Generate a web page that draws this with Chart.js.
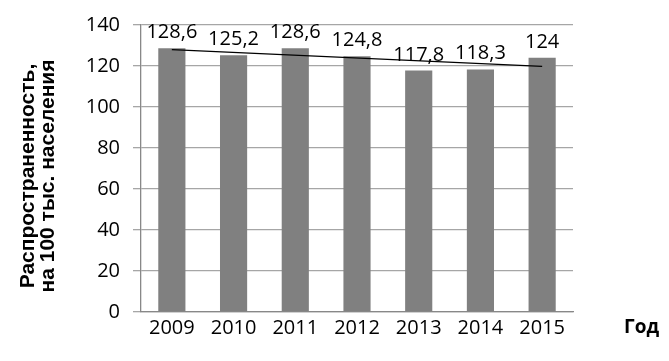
<!DOCTYPE html>
<html>
<head>
<meta charset="utf-8">
<script src="https://cdn.jsdelivr.net/npm/chart.js@4.4.0/dist/chart.umd.min.js"></script>
<style>
html,body{margin:0;padding:0;background:#fff;}
#wrap{width:669px;height:361px;position:relative;}
</style>
</head>
<body>
<div id="wrap"><canvas id="c" width="669" height="361"></canvas></div>
<script>
const years = ['2009','2010','2011','2012','2013','2014','2015'];
const prevalence = [128.6, 125.2, 128.6, 124.8, 117.8, 118.3, 124];
const valueLabels = ['128,6','125,2','128,6','124,8','117,8','118,3','124'];
const trend = [128.0, null, null, null, null, null, 119.8];
const yTicks = [0, 20, 40, 60, 80, 100, 120, 140];
const yTitle = ['Распространенность,', 'на 100 тыс. населения'];
const xTitle = 'Год';

const FONT = '"Open Sans", sans-serif';

const labelsPlugin = {
  id: 'labelsPlugin',
  afterDatasetsDraw(chart) {
    const ctx = chart.ctx;
    const meta = chart.getDatasetMeta(0);
    ctx.save();
    ctx.font = '20px ' + FONT;
    ctx.fillStyle = '#000';
    ctx.textAlign = 'center';
    ctx.textBaseline = 'alphabetic';
    meta.data.forEach((bar, i) => {
      ctx.fillText(valueLabels[i], bar.x, bar.y - 10);
    });
    ctx.restore();
  },
  afterDraw(chart) {
    const ctx = chart.ctx;
    const ca = chart.chartArea;
    ctx.save();
    ctx.fillStyle = '#000';
    ctx.font = 'bold 21px "Liberation Sans", Arial, sans-serif';
    ctx.textAlign = 'center';
    ctx.textBaseline = 'middle';
    ctx.translate(38, 176);
    ctx.rotate(-Math.PI / 2);
    ctx.fillText(yTitle[0], 0, -10);
    ctx.fillText(yTitle[1], 0, 10);
    ctx.restore();
    ctx.save();
    ctx.fillStyle = '#000';
    ctx.font = 'bold 19px ' + FONT;
    ctx.textAlign = 'left';
    ctx.textBaseline = 'middle';
    ctx.fillText(xTitle, 624, 328);
    ctx.restore();
  }
};

new Chart(document.getElementById('c'), {
  type: 'bar',
  data: {
    labels: years,
    datasets: [
      {
        type: 'bar',
        data: prevalence,
        backgroundColor: '#808080',
        borderWidth: 0,
        barPercentage: 0.44,
        categoryPercentage: 1.0,
        order: 2
      },
      {
        type: 'line',
        data: trend,
        borderColor: '#000',
        borderWidth: 1.3,
        pointRadius: 0,
        spanGaps: true,
        fill: false,
        order: 1
      }
    ]
  },
  plugins: [labelsPlugin],
  options: {
    responsive: false,
    animation: false,
    devicePixelRatio: 1,
    layout: { padding: { top: 24, right: 96, bottom: 17, left: 0 } },
    plugins: { legend: { display: false }, tooltip: { enabled: false } },
    scales: {
      x: {
        grid: { display: false, drawTicks: false },
        border: { display: true, color: '#888', width: 1.3 },
        ticks: { color: '#000', font: { family: FONT, size: 20 }, padding: 4 }
      },
      y: {
        min: 0, max: 140,
        afterFit(scale) { scale.width = 141; },
        afterBuildTicks(scale) { scale.ticks = yTicks.map(v => ({ value: v })); },
        grid: { color: '#a6a6a6', lineWidth: 1.3, tickLength: 8, drawTicks: true },
        border: { display: true, color: '#888', width: 1.3 },
        ticks: { color: '#000', font: { family: FONT, size: 20 }, padding: 13 }
      }
    }
  }
});
</script>
</body>
</html>
